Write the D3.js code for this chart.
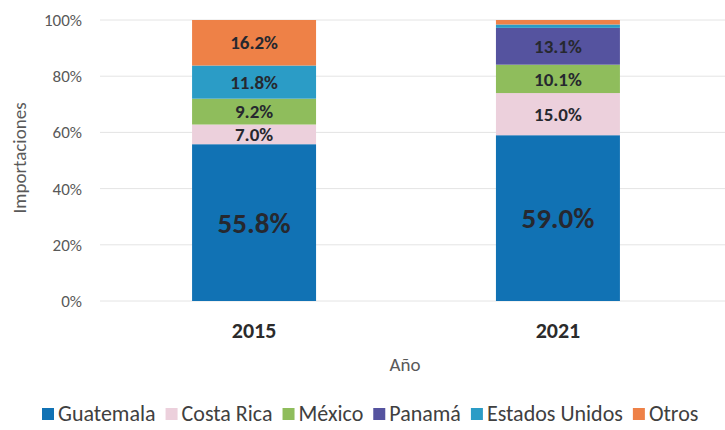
<!DOCTYPE html>
<html>
<head>
<meta charset="utf-8">
<script src="https://cdn.jsdelivr.net/npm/d3@7"></script>
<style>
  body { margin: 0; background: #fff; }
  svg text { font-family: Carlito, Lato, "Open Sans", sans-serif; }
</style>
</head>
<body>
<div id="chart"></div>
<script>
// data (percent of imports)
const years = ["2015", "2021"];
const countries = ["Guatemala", "Costa Rica", "México", "Panamá", "Estados Unidos", "Otros"];
const guatemala = [55.8, 59.0];
const costaRica = [7.0, 15.0];
const mexico = [9.2, 10.1];
const panama = [0.0, 13.1];
const estadosUnidos = [11.8, 1.2];
const otros = [16.2, 1.6];
const yTicks = [0, 20, 40, 60, 80, 100];

const colors = ["#1172b4", "#ecd0dc", "#8fbd5c", "#55539f", "#2b9cc6", "#ee8147"];

const width = 725, height = 430;
const series = [guatemala, costaRica, mexico, panama, estadosUnidos, otros];

// rows for d3.stack
const rows = years.map((yr, i) => {
	const r = { year: yr };
	countries.forEach((c, j) => r[c] = series[j][i]);
	return r;
});
const stacked = d3.stack().keys(countries)(rows);

const svg = d3.select("#chart").append("svg")
	.attr("width", width)
	.attr("height", height);

const x = d3.scaleBand()
	.domain(years)
	.range([100, 712])
	.paddingInner(0.592)
	.paddingOuter(0.303);

const y = d3.scaleLinear()
	.domain([0, 100])
	.range([301, 20]);

// gridlines
svg.append("g")
	.selectAll("line")
	.data(yTicks)
	.enter().append("line")
	.attr("x1", 100)
	.attr("x2", width)
	.attr("y1", d => y(d))
	.attr("y2", d => y(d))
	.attr("stroke", "#e4e4e4")
	.attr("stroke-width", 1);

// y axis labels
const yAxis = d3.axisLeft(y)
	.tickValues(yTicks)
	.tickFormat(d => d + "%")
	.tickSize(0)
	.tickPadding(0);

svg.append("g")
	.attr("transform", "translate(82,0)")
	.call(yAxis)
	.call(g => g.select(".domain").remove())
	.call(g => g.selectAll("text")
		.attr("fill", "#595959")
		.style("font-size", "17px"));

// bars
svg.append("g")
	.selectAll("g")
	.data(stacked)
	.enter().append("g")
	.attr("fill", (d, i) => colors[i])
	.selectAll("rect")
	.data(d => d)
	.enter().append("rect")
	.attr("x", d => x(d.data.year))
	.attr("y", d => y(d[1]))
	.attr("width", x.bandwidth())
	.attr("height", d => y(d[0]) - y(d[1]));

// segment labels (only the ones big enough)
const labels = [];
stacked.forEach((s, i) => s.forEach(d => {
	const v = d[1] - d[0];
	if (v >= 5) labels.push({ year: d.data.year, v: v, mid: (d[0] + d[1]) / 2, big: i === 0 });
}));

svg.append("g")
	.selectAll("text")
	.data(labels)
	.enter().append("text")
	.attr("x", d => x(d.year) + x.bandwidth() / 2)
	.attr("y", d => y(d.mid))
	.attr("dy", "0.35em")
	.attr("text-anchor", "middle")
	.attr("fill", "#26282f")
	.style("font-weight", "bold")
	.style("font-size", d => d.big ? "29px" : "19px")
	.text(d => d.v.toFixed(1) + "%");

// x axis labels
const xAxis = d3.axisBottom(x).tickSize(0).tickPadding(0);
svg.append("g")
	.attr("transform", "translate(0,322)")
	.call(xAxis)
	.call(g => g.select(".domain").remove())
	.call(g => g.selectAll("text")
		.attr("fill", "#2b2b2b")
		.style("font-weight", "bold")
		.style("font-size", "22px"));

// axis titles
svg.append("text")
	.attr("x", 405)
	.attr("y", 371)
	.attr("text-anchor", "middle")
	.attr("fill", "#595959")
	.style("font-size", "19px")
	.text("Año");

svg.append("text")
	.attr("transform", "translate(26,158) rotate(-90)")
	.attr("text-anchor", "middle")
	.attr("fill", "#595959")
	.style("font-size", "19px")
	.text("Importaciones");

// legend
const legend = svg.append("g").attr("transform", "translate(42,421)");
let lx = 0;
countries.forEach((c, i) => {
	const item = legend.append("g").attr("transform", `translate(${lx},0)`);
	item.append("rect")
		.attr("x", 0)
		.attr("y", -13)
		.attr("width", 12)
		.attr("height", 12)
		.attr("fill", colors[i]);
	const t = item.append("text")
		.attr("x", 16)
		.attr("y", 0)
		.attr("fill", "#404040")
		.style("font-size", "22px")
		.text(c);
	lx += 16 + t.node().getComputedTextLength() + 10;
});
</script>
</body>
</html>
